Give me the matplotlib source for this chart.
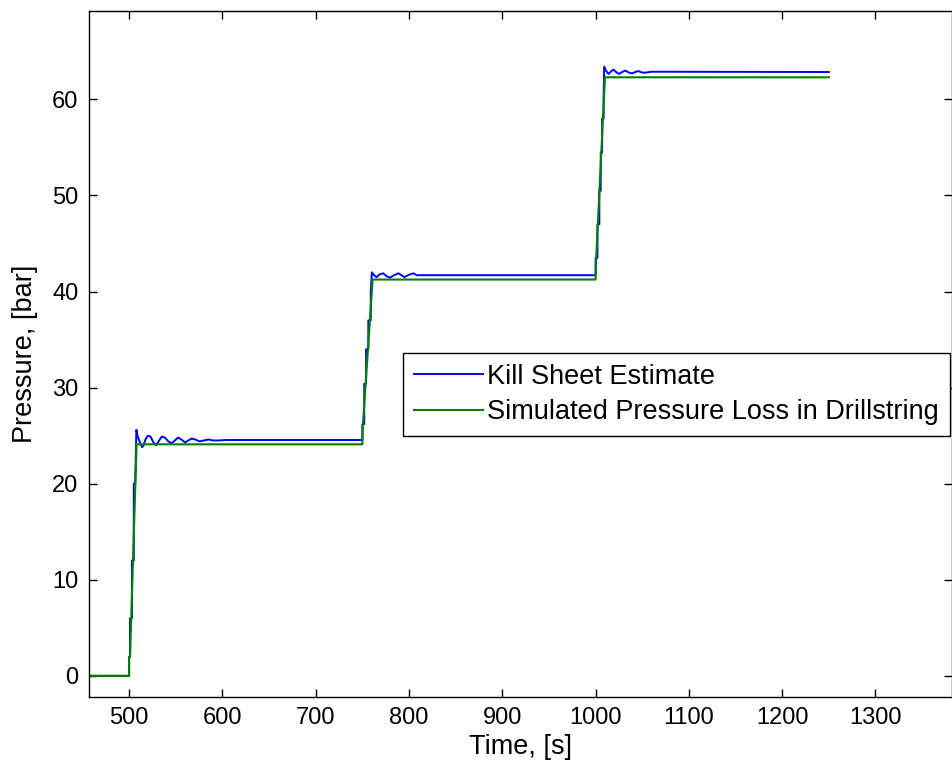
import matplotlib
matplotlib.use("Agg")
import matplotlib.pyplot as plt

plt.rcParams['font.family'] = ['Liberation Sans', 'DejaVu Sans']

# Kill sheet estimate (blue)
t_kill = [0, 500, 500, 501, 501, 503, 503, 505, 505, 506.5, 507.8, 509.0, 511.5, 514, 515.5,
          517.5, 520, 523, 526, 529, 531.5, 535, 538.5, 542, 545.5, 549, 552.5,
          556, 560, 563.5, 567, 571, 575.5, 580, 585, 590, 596, 604,
          750, 750, 752, 752, 754, 754, 756.4, 756.4, 759, 759, 760.2, 762.5, 765.3,
          768.5, 772.5, 776, 779.6, 784, 788.6, 792, 795, 800, 804.7, 808.2,
          1000, 1000, 1002, 1002, 1004, 1004, 1005.5, 1005.5, 1007, 1007, 1008.6,
          1008.6, 1009.2, 1011, 1013.9, 1016.5, 1019, 1022, 1025, 1028.5, 1032,
          1035.5, 1039, 1042.5, 1046, 1049.5, 1053, 1060, 1250]
p_kill = [0, 0, 2.0, 2.0, 6.0, 6.0, 12.0, 12.0, 20.0, 20.0, 25.6, 25.0, 24.3, 23.8, 24.0,
          24.6, 25.0, 24.9, 24.3, 24.0, 24.4, 24.9, 24.8, 24.4, 24.2, 24.5, 24.8,
          24.6, 24.3, 24.5, 24.7, 24.6, 24.4, 24.5, 24.6, 24.5, 24.5, 24.55,
          24.55, 26.2, 26.2, 30.4, 30.4, 34.0, 34.0, 37.0, 37.0, 40.0, 42.0, 41.7, 41.5,
          41.8, 41.9, 41.6, 41.45, 41.7, 41.9, 41.7, 41.5, 41.75, 41.9, 41.7,
          41.7, 43.5, 43.5, 47.0, 47.0, 50.5, 50.5, 54.5, 54.5, 58.0, 58.0,
          60.3, 63.4, 63.0, 62.65, 62.9, 63.1, 62.85, 62.65, 62.85, 63.0,
          62.8, 62.7, 62.85, 62.95, 62.8, 62.78, 62.88, 62.85]

# Simulated pressure loss in drillstring (green)
t_sim = [0, 500, 500, 501, 508, 750, 750.5, 761, 1000, 1000.5, 1010, 1250]
p_sim = [0, 0, 1.9, 2.0, 24.1, 24.1, 26.0, 41.25, 41.25, 43.2, 62.3, 62.3]

fig = plt.figure(figsize=(9.53, 7.66), dpi=100)
ax = fig.add_axes([89 / 953, 69 / 766, 863 / 953, 686 / 766])

ax.plot(t_kill, p_kill, color='#0000ff', lw=1.4, label='Kill Sheet Estimate')
ax.plot(t_sim, p_sim, color='#008000', lw=1.5, label='Simulated Pressure Loss in Drillstring')

ax.set_xlim(457, 1382)
ax.set_ylim(-2.2, 69.2)
ax.set_xticks(range(500, 1301, 100))
ax.set_yticks(range(0, 61, 10))

ax.tick_params(direction='in', top=True, right=True, length=6, width=1,
               labelsize=17, pad=7.5, colors='black')
for s in ax.spines.values():
    s.set_linewidth(1)
    s.set_color('black')

ax.set_xlabel('Time, [s]', fontsize=19.5, labelpad=3)
ax.set_ylabel('Pressure, [bar]', fontsize=19.5, labelpad=10)

leg = ax.legend(loc='upper right', bbox_to_anchor=(0.9977, 0.5015), fontsize=19.5,
                fancybox=False, framealpha=1, edgecolor='black', borderaxespad=0,
                handlelength=2.55, handletextpad=0.15, labelspacing=0.35, borderpad=0.4)
leg.get_frame().set_linewidth(1)

fig.savefig('out.png', dpi=100)
